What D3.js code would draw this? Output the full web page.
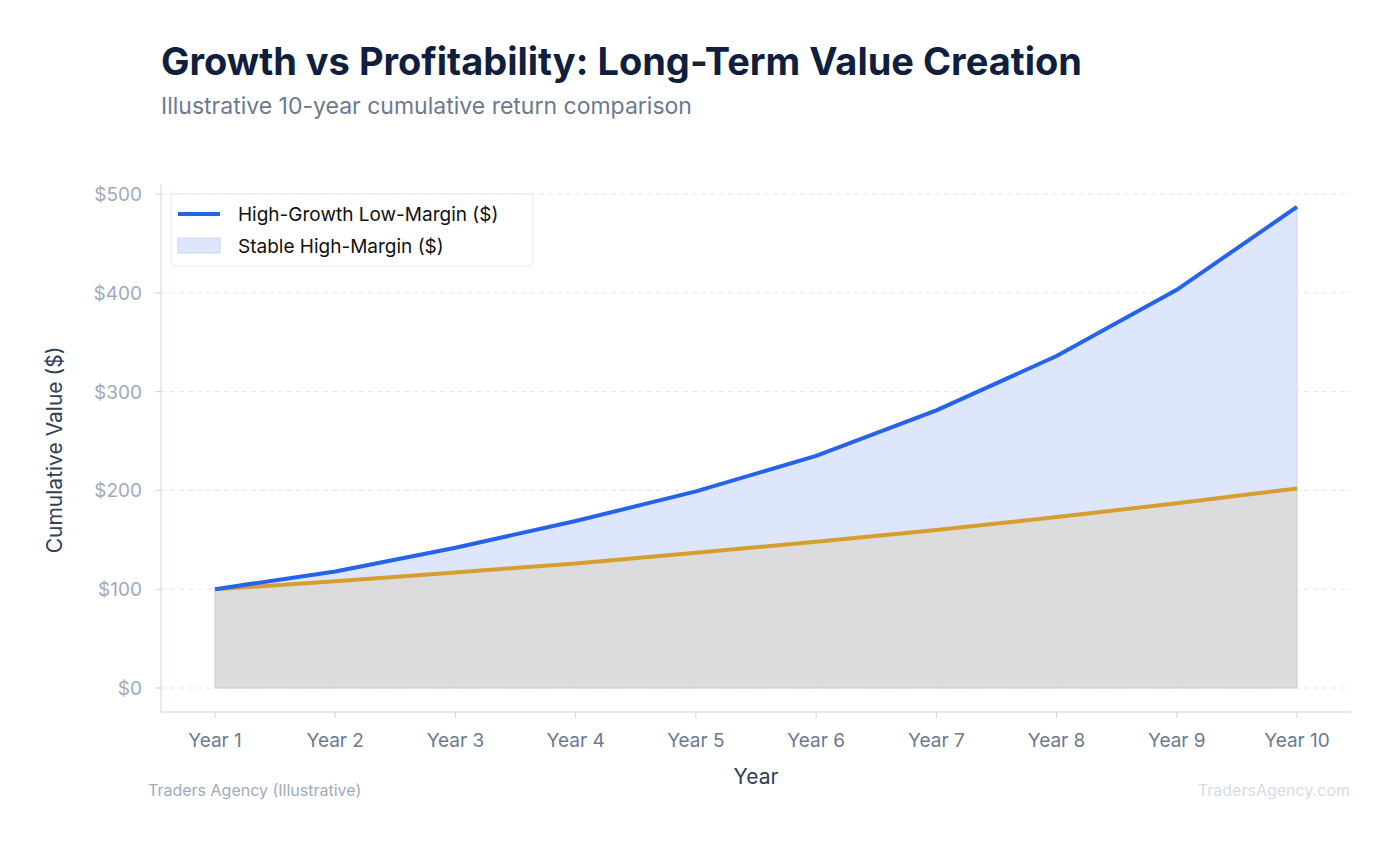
<!DOCTYPE html>
<html><head><meta charset="utf-8">
<script src="https://cdn.jsdelivr.net/npm/d3@7"></script>
<style>body{margin:0;background:#fff;font-family:Inter,sans-serif}</style>
</head><body><svg id="c" width="1395" height="845"></svg>
<script>
const years=["Year 1","Year 2","Year 3","Year 4","Year 5","Year 6","Year 7","Year 8","Year 9","Year 10"];
const highGrowth=[100,118,142,169,199,235,281,336,403,487];
const stable=[100,108,117,126,137,148,160,173,187,202];
const yTicks=[0,100,200,300,400,500];
const svg=d3.select("#c");
const L=161,R=1351,T=184,B=712;
const x=d3.scalePoint().domain(years).range([215,1297]);
const y=d3.scaleLinear().domain([0,500]).range([688,194]);
svg.append("text").attr("x",161).attr("y",75).attr("font-size",38).attr("font-weight",700).attr("fill","#0f1f3d").text("Growth vs Profitability: Long-Term Value Creation");
svg.append("text").attr("x",161).attr("y",114).attr("font-size",23).attr("fill","#6b7a90").text("Illustrative 10-year cumulative return comparison");
yTicks.forEach(t=>{svg.append("line").attr("x1",L).attr("x2",R).attr("y1",y(t)).attr("y2",y(t)).attr("stroke","#e5e9f0").attr("stroke-dasharray","5,4");
svg.append("text").attr("x",142).attr("y",y(t)+7).attr("text-anchor","end").attr("font-size",19).attr("fill","#a0aabb").text("$"+t);
svg.append("line").attr("x1",L-6).attr("x2",L).attr("y1",y(t)).attr("y2",y(t)).attr("stroke","#cbd5e1");});
const d=years.map((k,i)=>({k,h:highGrowth[i],s:stable[i]}));
svg.append("path").datum(d).attr("d",d3.area().x(p=>x(p.k)).y0(p=>y(p.s)).y1(p=>y(p.h))).attr("fill","#dde6fb").attr("stroke","#c9d6f5");
svg.append("path").datum(d).attr("d",d3.area().x(p=>x(p.k)).y0(y(0)).y1(p=>y(p.s))).attr("fill","#dcdcde").attr("stroke","#c8cbd6");
svg.append("path").datum(d).attr("d",d3.line().x(p=>x(p.k)).y(p=>y(p.s))).attr("fill","none").attr("stroke","#d69e2e").attr("stroke-width",4);
svg.append("path").datum(d).attr("d",d3.line().x(p=>x(p.k)).y(p=>y(p.h))).attr("fill","none").attr("stroke","#2563eb").attr("stroke-width",4);
svg.append("line").attr("x1",L).attr("x2",L).attr("y1",T).attr("y2",B).attr("stroke","#cbd5e1");
svg.append("line").attr("x1",L).attr("x2",R).attr("y1",B).attr("y2",B).attr("stroke","#cbd5e1");
years.forEach(k=>{svg.append("line").attr("x1",x(k)).attr("x2",x(k)).attr("y1",B).attr("y2",B+6).attr("stroke","#cbd5e1");
svg.append("text").attr("x",x(k)).attr("y",747).attr("text-anchor","middle").attr("font-size",19).attr("fill","#6b7a90").text(k);});
svg.append("text").attr("x",756).attr("y",784).attr("text-anchor","middle").attr("font-size",21).attr("fill","#334155").text("Year");
svg.append("text").attr("transform","translate(62,450) rotate(-90)").attr("text-anchor","middle").attr("font-size",21).attr("fill","#334155").text("Cumulative Value ($)");
const lg=svg.append("g");
lg.append("rect").attr("x",171).attr("y",194).attr("width",362).attr("height",72).attr("rx",3).attr("fill","#fff").attr("fill-opacity",0.85).attr("stroke","#e2e8f0");
lg.append("line").attr("x1",178).attr("x2",220).attr("y1",214).attr("y2",214).attr("stroke","#2563eb").attr("stroke-width",4);
lg.append("rect").attr("x",178).attr("y",238).attr("width",42).attr("height",15).attr("fill","#dde6fb").attr("stroke","#c9d6f5");
lg.append("text").attr("x",238).attr("y",221).attr("font-size",19).attr("fill","#111").text("High-Growth Low-Margin ($)");
lg.append("text").attr("x",238).attr("y",253).attr("font-size",19).attr("fill","#111").text("Stable High-Margin ($)");
svg.append("text").attr("x",148).attr("y",796).attr("font-size",16).attr("fill","#a0aabb").text("Traders Agency (Illustrative)");
svg.append("text").attr("x",1350).attr("y",796).attr("text-anchor","end").attr("font-size",16).attr("fill","#d5dbe5").text("TradersAgency.com");
</script></body></html>
